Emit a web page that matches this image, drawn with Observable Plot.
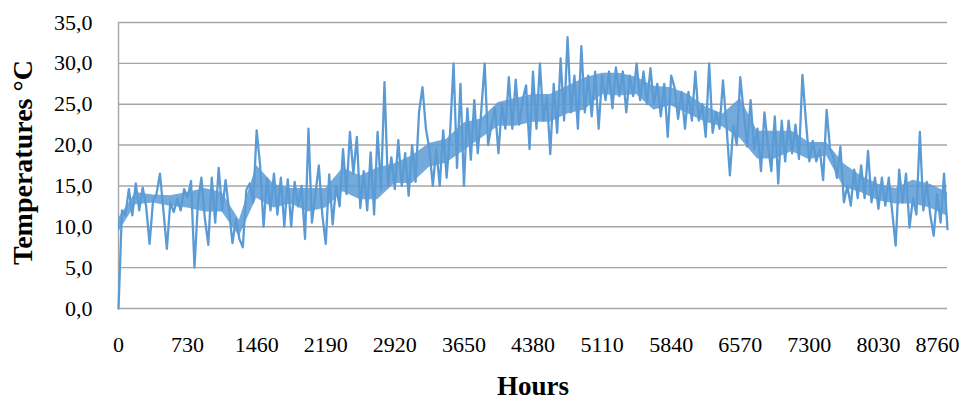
<!DOCTYPE html>
<html>
<head>
<meta charset="utf-8">
<script src="https://cdn.jsdelivr.net/npm/d3@7"></script>
<script src="https://cdn.jsdelivr.net/npm/@observablehq/plot@0.6"></script>
<style>
  body { margin: 0; background: #ffffff; }
  #chart svg { display: block; }
</style>
</head>
<body>
<div id="chart"></div>
<script>
// Hourly temperature (°C), one reading every 36.5 hours
const hourStep = 36.5;
const temperatures = [
  0.0, 12.0, 11.4, 14.6, 11.4, 15.3, 12.0, 14.8, 12.5, 7.9,
  13.2, 14.0, 16.5, 12.0, 7.3, 13.0, 11.8, 13.4, 12.0, 14.6,
  13.6, 15.6, 5.0, 13.0, 16.0, 11.0, 7.8, 16.0, 10.5, 17.2,
  12.0, 15.7, 12.0, 8.0, 11.0, 8.5, 7.5, 14.5, 15.3, 13.0,
  21.8, 17.5, 10.0, 15.9, 12.0, 16.5, 11.5, 16.0, 10.0, 15.8,
  10.0, 15.5, 12.5, 15.0, 8.5, 22.0, 10.5, 14.0, 17.5, 11.5,
  7.9, 16.4, 10.3, 15.0, 12.5, 19.5, 14.0, 21.6, 16.5, 21.0,
  12.3, 16.8, 12.0, 19.1, 11.5, 21.6, 14.5, 27.7, 15.0, 18.5,
  14.6, 20.6, 15.0, 19.0, 13.8, 20.0, 15.5, 24.0, 27.1, 22.0,
  19.5, 15.0, 19.5, 15.0, 21.8, 16.0, 21.5, 30.0, 17.2, 27.5,
  15.0, 24.5, 18.2, 25.5, 19.0, 24.0, 30.0, 20.0, 22.5, 24.5,
  19.0, 25.0, 22.0, 28.3, 22.0, 28.0, 22.5, 25.5, 27.3, 19.5,
  29.0, 22.0, 30.0, 23.0, 26.0, 18.9, 27.5, 21.5, 30.6, 23.0,
  33.2, 24.0, 28.5, 22.0, 32.1, 24.0, 28.5, 23.5, 29.0, 22.0,
  28.5, 25.5, 29.0, 24.5, 29.5, 26.0, 29.0, 24.0, 28.5, 26.0,
  30.0, 25.5, 29.0, 25.0, 29.4, 25.0, 27.5, 23.5, 27.5, 21.0,
  28.5, 27.0, 23.2, 26.5, 22.0, 26.5, 23.0, 29.0, 23.0, 25.0,
  21.0, 30.0, 21.5, 24.0, 22.0, 27.9, 22.5, 16.3, 22.4, 20.0,
  28.3, 24.0, 19.8, 25.5, 19.5, 22.0, 16.8, 24.0, 20.0, 16.8,
  23.5, 15.3, 23.0, 18.0, 23.0, 19.0, 22.5, 18.3, 28.6, 23.0,
  18.0, 20.5, 18.0, 19.5, 15.7, 24.3, 19.5, 18.5, 16.0, 19.8,
  13.0, 15.0, 12.6, 17.0, 13.5, 17.5, 13.5, 19.3, 13.0, 16.0,
  12.2, 16.0, 12.6, 16.0, 11.8, 7.7, 17.0, 13.0, 16.5, 9.9,
  13.5, 11.5, 21.6, 12.0, 15.5, 11.5, 8.9, 14.0, 10.5, 16.5,
  9.7
];
// Dense core of the hourly trace (where the day/night swings overlap), read every 182.5 hours
const coreStep = 182.5;
const coreLow = [
  9.3, 12.7, 12.9, 12.5, 12.3, 11.8, 11.8, 8.8, 13.5, 12.3,
  12.8, 11.8, 12.3, 14.3, 13.3, 13.3, 15.3, 15.3, 17.3, 17.8,
  19.3, 20.8, 22.3, 22.3, 22.8, 22.8, 23.8, 24.3, 26.2, 26.0,
  26.2, 24.3, 24.8, 23.8, 22.8, 22.2, 20.8, 18.3, 18.3, 19.2,
  18.2, 18.7, 14.8, 14.2, 13.2, 12.8, 12.8, 12.3, 11.3
];
const coreHigh = [
  11.0, 14.2, 13.9, 13.8, 14.2, 14.7, 14.2, 10.8, 17.5, 15.2,
  14.7, 14.7, 14.7, 17.2, 16.2, 17.2, 17.7, 18.7, 20.2, 20.7,
  22.7, 23.2, 25.2, 25.7, 26.2, 26.2, 27.2, 28.2, 28.8, 28.8,
  28.3, 27.2, 27.0, 26.2, 24.7, 23.8, 25.7, 21.7, 21.7, 21.7,
  20.3, 20.3, 17.7, 16.2, 15.2, 14.7, 15.7, 15.2, 14.2
];
const yTicks = [0, 5, 10, 15, 20, 25, 30, 35];
const xTicks = [0, 730, 1460, 2190, 2920, 3650, 4380, 5110, 5840, 6570, 7300, 8030, 8760];
const yTitle = "Temperatures °C";
const xTitle = "Hours";

const data = temperatures.map((t, i) => ({ hour: i * hourStep, temp: t }));
const core = coreLow.map((lo, i) => ({ hour: i * coreStep, lo, hi: coreHigh[i] }));
const fmtY = d => d.toFixed(1).replace(".", ",");
const grid = "#a6a6a6";
const blue = "#5b9bd5";
const font = "'Liberation Serif', 'Times New Roman', serif";

const chart = Plot.plot({
  width: 978,
  height: 403,
  marginLeft: 118,
  marginRight: 31,
  marginTop: 22,
  marginBottom: 95,
  x: { domain: [0, 8760] },
  y: { domain: [0, 35] },
  style: { fontFamily: font, fontSize: "22px", color: "#000", background: "#fff" },
  marks: [
    Plot.gridY(yTicks, { stroke: grid, strokeOpacity: 1, strokeWidth: 1.4 }),
    Plot.ruleX([0], { stroke: grid, strokeWidth: 1.4 }),
    Plot.areaY(core, { x: "hour", y1: "lo", y2: "hi", fill: blue, fillOpacity: 0.85 }),
    Plot.line(data, { x: "hour", y: "temp", stroke: blue, strokeWidth: 2.3, strokeLinejoin: "round" }),
    Plot.axisY(yTicks, { tickSize: 0, tickPadding: 26, tickFormat: fmtY, label: null, fontSize: 22 }),
    Plot.axisX(xTicks.slice(0, -1), { tickSize: 0, tickPadding: 28, tickFormat: d => String(d), label: null, fontSize: 22 }),
    Plot.axisX(xTicks.slice(-1), { tickSize: 0, tickPadding: 28, tickFormat: d => String(d), label: null, fontSize: 22, dx: -10 }),
    Plot.text([yTitle], { frameAnchor: "left", rotate: -90, dx: -95, dy: -3, fontSize: 28, fontWeight: "bold", textAnchor: "middle", lineAnchor: "middle" }),
    Plot.text([xTitle], { frameAnchor: "bottom", dy: 78, fontSize: 27, fontWeight: "bold", lineAnchor: "middle" })
  ]
});
document.getElementById("chart").appendChild(chart);
</script>
</body>
</html>
